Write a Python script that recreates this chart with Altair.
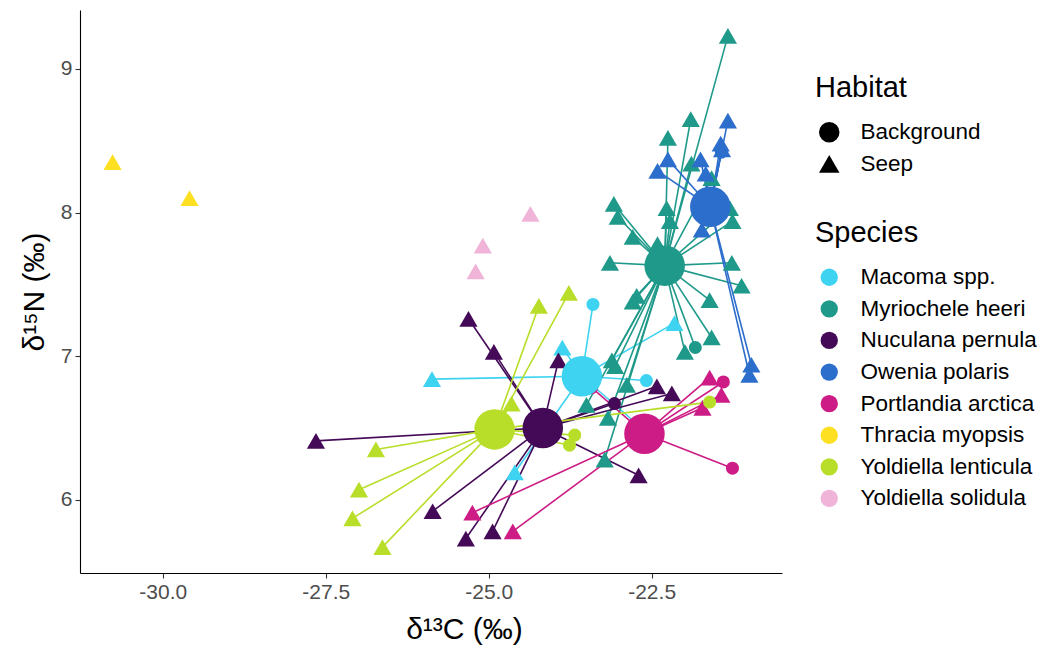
import altair as alt
import pandas as pd

species_order = ["Macoma spp.", "Myriochele heeri", "Nuculana pernula", "Owenia polaris",
                 "Portlandia arctica", "Thracia myopsis", "Yoldiella lenticula", "Yoldiella solidula"]
species_colors = ["#3FD3F2", "#1F9A8A", "#440A57", "#2C6ECB",
                  "#CD1C85", "#FDE021", "#B8DE29", "#F0B4D8"]

# Individual samples (d13C, d15N, habitat) per species
macoma_x = [-25.87, -23.40, -23.87, -22.15, -22.58, -24.60, -22.68]
macoma_y = [6.84, 7.36, 7.06, 7.23, 6.83, 6.19, 6.51]
macoma_hab = ["Seep", "Background", "Seep", "Seep", "Background", "Seep", "Seep"]

myrio_x = [-21.33, -21.90, -22.25, -21.89, -23.08, -23.02, -22.27, -22.22, -22.79, -22.41,
           -23.14, -21.26, -21.27, -21.12, -21.61, -21.58, -21.83, -21.99, -22.73, -22.79,
           -23.11, -23.06, -23.50, -22.88, -23.17, -23.22, -21.30, -21.58]
myrio_y = [9.23, 8.65, 8.52, 8.34, 8.06, 7.97, 8.03, 7.94, 7.83, 7.78,
           7.65, 7.94, 7.65, 7.49, 7.39, 7.13, 7.06, 7.03, 7.42, 7.38,
           6.97, 6.93, 6.66, 6.80, 6.57, 6.28, 8.03, 8.24]
myrio_hab = ["Seep"] * 16 + ["Background"] + ["Seep"] * 11

nucu_x = [-27.65, -25.31, -24.92, -25.86, -25.35, -24.94, -23.93, -22.70, -22.42, -22.19, -23.07]
nucu_y = [6.41, 7.26, 7.03, 5.92, 5.73, 5.78, 6.97, 6.17, 6.79, 6.74, 6.67]
nucu_hab = ["Seep"] * 10 + ["Background"]

owen_x = [-21.33, -21.44, -21.42, -21.43, -22.41, -22.25, -21.75, -21.67, -21.73, -20.97, -21.00]
owen_y = [8.64, 8.48, 8.44, 8.42, 8.29, 8.37, 8.37, 8.27, 7.88, 6.94, 6.87]
owen_hab = ["Seep", "Seep", "Seep", "Background", "Seep", "Seep", "Seep", "Seep", "Seep", "Seep", "Seep"]

port_x = [-21.61, -21.43, -21.40, -21.26, -21.72, -25.25, -24.63, -23.42]
port_y = [6.85, 6.73, 6.82, 6.22, 6.64, 5.91, 5.78, 6.78]
port_hab = ["Seep", "Seep", "Background", "Background", "Seep", "Seep", "Seep", "Background"]

thra_x = [-30.77, -29.59]
thra_y = [8.35, 8.10]
thra_hab = ["Seep", "Seep"]

ylen_x = [-26.73, -26.99, -27.09, -26.63, -24.23, -23.77, -24.65, -23.68, -23.76, -21.61]
ylen_y = [6.35, 6.07, 5.87, 5.67, 7.35, 7.44, 6.67, 6.45, 6.38, 6.68]
ylen_hab = ["Seep"] * 7 + ["Background"] * 3

ysol_x = [-24.36, -25.09, -25.20]
ysol_y = [7.99, 7.77, 7.59]
ysol_hab = ["Seep", "Seep", "Seep"]

# Species centroids (large circles)
cen_species = ["Macoma spp.", "Myriochele heeri", "Nuculana pernula", "Owenia polaris",
               "Portlandia arctica", "Yoldiella lenticula"]
cen_x = [-23.57, -22.30, -24.17, -21.60, -22.61, -24.91]
cen_y = [6.86, 7.63, 6.50, 8.04, 6.46, 6.49]

groups = [
    ("Macoma spp.", macoma_x, macoma_y, macoma_hab),
    ("Myriochele heeri", myrio_x, myrio_y, myrio_hab),
    ("Nuculana pernula", nucu_x, nucu_y, nucu_hab),
    ("Owenia polaris", owen_x, owen_y, owen_hab),
    ("Portlandia arctica", port_x, port_y, port_hab),
    ("Thracia myopsis", thra_x, thra_y, thra_hab),
    ("Yoldiella lenticula", ylen_x, ylen_y, ylen_hab),
    ("Yoldiella solidula", ysol_x, ysol_y, ysol_hab),
]
rows = []
for sp, xs, ys, hs in groups:
    for xv, yv, hv in zip(xs, ys, hs):
        rows.append({"species": sp, "d13C": xv, "d15N": yv, "habitat": hv})
pts = pd.DataFrame(rows)
cen = pd.DataFrame({"species": cen_species, "cx": cen_x, "cy": cen_y})
seg = pts.merge(cen, on="species", how="inner")

FONT = "Liberation Sans"
TITLE_SIZE = 29
LABEL_SIZE = 22.5
xscale = alt.Scale(domain=[-31.27, -20.50], nice=False, zero=False)
yscale = alt.Scale(domain=[5.49, 9.41], nice=False, zero=False)
cscale = alt.Scale(domain=species_order, range=species_colors)

minus_fix = "replace(format(datum.value, '.1f'), '\u2212', '-')"
xaxis = alt.Axis(values=[-30, -27.5, -25, -22.5], labelExpr=minus_fix, title="δ¹³C (‰)",
                 grid=False, domainColor="black", domainWidth=1.1, tickColor="#333333",
                 tickSize=5, tickWidth=1.1, labelFontSize=21, labelColor="#4D4D4D",
                 labelPadding=3, titleFontSize=30, titleFontWeight="normal",
                 titleColor="black", titlePadding=12, titleX=384, labelFont=FONT, titleFont=FONT)
yaxis = alt.Axis(values=[6, 7, 8, 9], format="d", title="δ¹⁵N (‰)",
                 grid=False, domainColor="black", domainWidth=1.1, tickColor="#333333",
                 tickSize=5, tickWidth=1.1, labelFontSize=21, labelColor="#4D4D4D",
                 labelPadding=3, titleFontSize=30, titleFontWeight="normal",
                 titleColor="black", titlePadding=11, labelFont=FONT, titleFont=FONT)

rules = alt.Chart(seg).mark_rule(strokeWidth=1.6).encode(
    x=alt.X("d13C:Q", scale=xscale, axis=xaxis),
    y=alt.Y("d15N:Q", scale=yscale, axis=yaxis),
    x2="cx:Q", y2="cy:Q",
    color=alt.Color("species:N", scale=cscale, legend=None),
)

species_legend = alt.Legend(title="Species", orient="none", legendX=735, legendY=209,
                            symbolType="circle", symbolSize=300, symbolOpacity=1,
                            symbolStrokeWidth=0, titleFontSize=TITLE_SIZE, labelFontSize=LABEL_SIZE,
                            titleFontWeight="normal", titlePadding=18, rowPadding=8.6,
                            labelOffset=20, symbolOffset=3, labelLimit=400, labelColor="black",
                            titleColor="black", padding=0, labelFont=FONT, titleFont=FONT)
habitat_legend = alt.Legend(title="Habitat", orient="none", legendX=735, legendY=64,
                            symbolSize=420, symbolFillColor="black", symbolStrokeColor="black",
                            symbolStrokeWidth=0, symbolOpacity=1, titleFontSize=TITLE_SIZE,
                            labelFontSize=LABEL_SIZE, titleFontWeight="normal", titlePadding=18,
                            rowPadding=8.6, labelOffset=20, symbolOffset=3, labelLimit=400,
                            labelColor="black", titleColor="black", padding=0,
                            labelFont=FONT, titleFont=FONT)

points = alt.Chart(pts).mark_point(filled=True, opacity=1, strokeWidth=0).encode(
    x=alt.X("d13C:Q", scale=xscale),
    y=alt.Y("d15N:Q", scale=yscale),
    color=alt.Color("species:N", scale=cscale, legend=species_legend),
    shape=alt.Shape("habitat:N", scale=alt.Scale(domain=["Background", "Seep"],
                                                 range=["circle", "triangle-up"]),
                    legend=habitat_legend),
    size=alt.Size("habitat:N", scale=alt.Scale(domain=["Seep", "Background"], range=[330, 170]),
                  legend=None),
)

centroids = alt.Chart(cen).mark_circle(size=1640, opacity=1).encode(
    x=alt.X("cx:Q", scale=xscale),
    y=alt.Y("cy:Q", scale=yscale),
    color=alt.Color("species:N", scale=cscale, legend=None),
)

chart = alt.layer(rules, points, centroids).resolve_legend(
    color="independent", shape="independent", size="independent"
).properties(
    width=702, height=563,
    padding={"left": 72, "top": 2, "right": 255, "bottom": 74},
    autosize=alt.AutoSizeParams(type="none"),
).configure(font=FONT).configure_view(strokeWidth=0, stroke="transparent")

chart.save("out.html", embed_options={"renderer": "svg", "actions": False})
